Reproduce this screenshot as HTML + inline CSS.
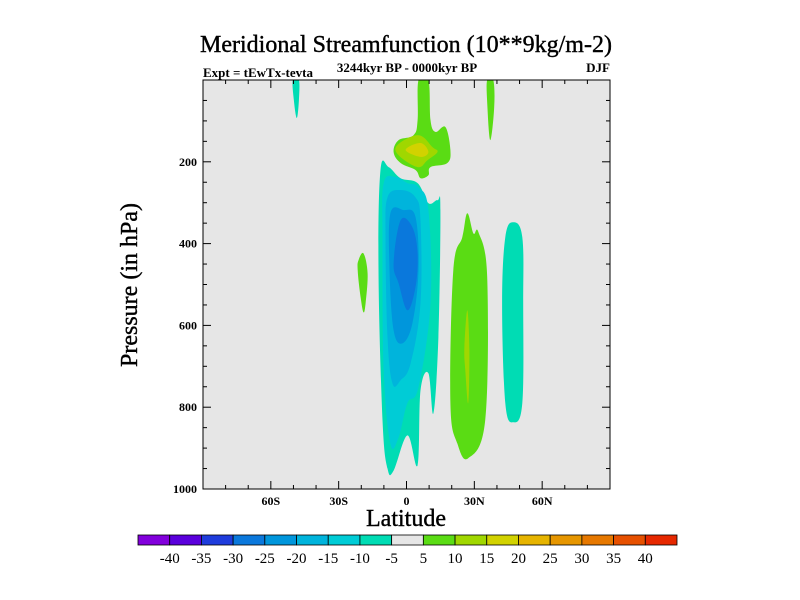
<!DOCTYPE html>
<html><head><meta charset="utf-8"><style>
body{margin:0;background:#fff;}
svg{display:block;font-family:"Liberation Serif",serif;}
</style></head><body>
<svg id="c" width="800" height="600"></svg>
<script>
const xTickLabels=["60S","30S","0","30N","60N"];
const xTickValues=[-60,-30,0,30,60];
const yTickValues=[200,400,600,800,1000];
const levelLabels=["-40","-35","-30","-25","-20","-15","-10","-5","5","10","15","20","25","30","35","40"];
const levelColors=["#8200dc","#5a00dc","#1e3cdc","#0a78dc","#0096dc","#00b4dc","#00ccd6","#00dcb4","#e6e6e6","#5adc14","#a0d700","#d2d200","#e6b400","#e69600","#e67800","#e65000","#e62800"];
// contour regions: [level index into levelColors, [[lat,p],...]]
const regionLevels=[7,6,5,4,3,9,10,11,9,9,7,9,10,7];
const regionShapes=[
[[-11.5,220],[-7.9,213],[-2.6,240],[4.9,252],[9.7,301],[13.7,294],[15,318],[14.1,629],[11.9,815],[9.7,717],[6.2,759],[4.9,942],[0.4,869],[-5.7,955],[-8.4,950],[-10.6,832],[-12.4,465]],
[[-10.1,252],[-4.9,237],[0.4,252],[5.3,262],[9.7,318],[10.6,546],[5.3,751],[0.4,790],[-3.5,874],[-7.1,889],[-10.1,710],[-10.6,384]],
[[-8.4,287],[-2.6,269],[4,287],[6.2,343],[6.2,546],[1.8,693],[-2.6,734],[-6.2,742],[-8.4,629],[-9.3,384]],
[[-7.1,326],[-1.3,318],[4,335],[5.3,465],[2.6,595],[-1.8,644],[-5.7,612],[-7.5,465]],
[[-2.6,343],[2.6,360],[4.9,424],[4,506],[0.4,563],[-3.5,497],[-5.7,448]],
[[5.3,0],[9.7,0],[10.6,98],[12.8,127],[17.2,115],[19.4,171],[18.1,203],[10.6,213],[9.7,233],[6.2,240],[4,220],[-2.6,203],[-5.7,176],[-3.5,147],[3.1,135],[4.9,98]],
[[-4,159],[5.3,135],[11.5,164],[13.7,176],[9.3,196],[4.9,213],[-3.5,184]],
[[-0.4,171],[6.2,154],[9.7,176],[6.2,188]],
[[35.7,0],[38.4,0],[38.8,66],[37,147],[35.7,56]],
[[-21.2,440],[-19,424],[-17.2,473],[-18.1,546],[-19,568],[-20.3,531],[-21.6,465]],
[[-50.3,0],[-47.6,0],[-47.6,50],[-48.5,93],[-49.8,50]],
[[26.9,326],[29.6,375],[31.8,372],[35.7,482],[34.8,832],[27.3,925],[22.5,889],[19.4,790],[20.7,465],[24.7,384]],
[[26.9,563],[27.8,661],[27.3,790],[26,710],[25.6,653]],
[[47.2,348],[51.2,384],[51.6,546],[51.2,790],[47.2,837],[43.7,790],[42.3,546],[43.7,384]]
];
const L=203,R=610,T=80,B=489;
const xs=lat=>L+(lat+90)/180*(R-L);
const ys=p=>T+p/1000*(B-T);
const svg=document.getElementById('c');
const NS="http://www.w3.org/2000/svg";
function mk(tag,attrs,txt){const e=document.createElementNS(NS,tag);for(const k in attrs)e.setAttribute(k,attrs[k]);if(txt!==undefined)e.textContent=txt;svg.appendChild(e);return e;}
function smooth(pts){
 const P=pts.map(q=>[xs(q[0]),ys(q[1])]);const n=P.length;
 let d='M'+P[0][0].toFixed(1)+','+P[0][1].toFixed(1);
 for(let i=0;i<n;i++){
  const p0=P[(i-1+n)%n],p1=P[i],p2=P[(i+1)%n],p3=P[(i+2)%n];const k=0.18;
  const c1=[p1[0]+(p2[0]-p0[0])*k,p1[1]+(p2[1]-p0[1])*k];
  const c2=[p2[0]-(p3[0]-p1[0])*k,p2[1]-(p3[1]-p1[1])*k];
  d+='C'+c1.map(v=>v.toFixed(1)).join(',')+' '+c2.map(v=>v.toFixed(1)).join(',')+' '+p2.map(v=>v.toFixed(1)).join(',');
 }
 return d+'Z';
}
let bg=mk('rect',{x:L,y:T,width:R-L,height:B-T,fill:'#e6e6e6'});


mk('clipPath',{id:'clp'}).appendChild(Object.assign(document.createElementNS(NS,'rect'),{}));
const cr=svg.lastChild.firstChild;cr.setAttribute('x',L);cr.setAttribute('y',T);cr.setAttribute('width',R-L);cr.setAttribute('height',B-T);
regionShapes.forEach((pts,i)=>{
 const p=mk('path',{d:smooth(pts),fill:levelColors[regionLevels[i]],'clip-path':'url(#clp)'});
 
 
});
let fr=mk('rect',{x:L,y:T,width:R-L,height:B-T,fill:'none',stroke:'#000','stroke-width':1});


for(let lat=-80;lat<=80;lat+=10){
 const x=xs(lat);const maj=lat%30===0;const len=maj?8:4;
 mk('line',{x1:x,y1:B,x2:x,y2:B-len,stroke:'#000'});
 mk('line',{x1:x,y1:T,x2:x,y2:T+len,stroke:'#000'});
}
xTickValues.forEach((v,i)=>{
 const t=mk('text',{x:xs(v),y:B+16,'text-anchor':'middle','font-size':12,'font-weight':'bold'},xTickLabels[i]);
 
 
});
for(let p=50;p<1000;p+=50){
 const y=ys(p);const maj=p%200===0;const len=maj?8:4;
 mk('line',{x1:L,y1:y,x2:L+len,y2:y,stroke:'#000'});
 mk('line',{x1:R,y1:y,x2:R-len,y2:y,stroke:'#000'});
}
yTickValues.forEach(v=>{
 const t=mk('text',{x:L-6,y:ys(v)+4,'text-anchor':'end','font-size':12,'font-weight':'bold'},String(v));
 
 
});
let tt=mk('text',{x:406,y:52,'text-anchor':'middle','font-size':24,stroke:'#000','stroke-width':0.4},'Meridional Streamfunction (10**9kg/m-2)');


let st=mk('text',{x:203,y:77,'font-size':13,'font-weight':'bold'},'Expt = tEwTx-tevta');


let st2=mk('text',{x:407,y:72,'text-anchor':'middle','font-size':13,'font-weight':'bold'},'3244kyr BP - 0000kyr BP');


let st3=mk('text',{x:610,y:72,'text-anchor':'end','font-size':13,'font-weight':'bold'},'DJF');


let xt=mk('text',{x:406,y:526,'text-anchor':'middle','font-size':24,stroke:'#000','stroke-width':0.4},'Latitude');


let yt=mk('text',{x:137,y:285,'text-anchor':'middle','font-size':24,stroke:'#000','stroke-width':0.4,transform:'rotate(-90 137 285)'},'Pressure (in hPa)');


const cbL=138,cbR=677,cbT=535,cbH=10,bw=(cbR-cbL)/levelColors.length;
levelColors.forEach((c,i)=>{
 const r=mk('rect',{x:cbL+i*bw,y:cbT,width:bw,height:cbH,fill:c,stroke:'#000','stroke-width':0.8});
 
 
});
levelLabels.forEach((s,i)=>{
 const t=mk('text',{x:cbL+(i+1)*bw,y:cbT+28,'text-anchor':'middle','font-size':15},s);
 
 
});
</script>
</body></html>
